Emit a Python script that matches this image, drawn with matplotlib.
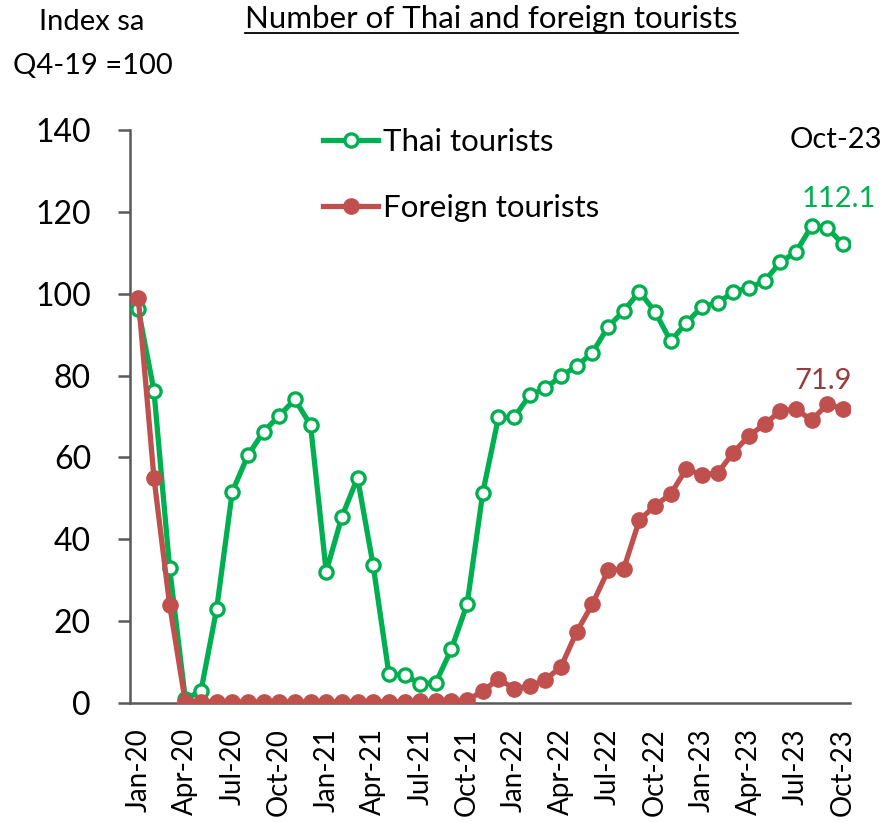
import matplotlib
matplotlib.use('Agg')
import matplotlib.pyplot as plt
import numpy as np

plt.rcParams['font.family'] = ['Lato', 'DejaVu Sans']

months = ['Jan-20', 'Feb-20', 'Mar-20', 'Apr-20', 'May-20', 'Jun-20', 'Jul-20', 'Aug-20', 'Sep-20', 'Oct-20', 'Nov-20', 'Dec-20',
          'Jan-21', 'Feb-21', 'Mar-21', 'Apr-21', 'May-21', 'Jun-21', 'Jul-21', 'Aug-21', 'Sep-21', 'Oct-21', 'Nov-21', 'Dec-21',
          'Jan-22', 'Feb-22', 'Mar-22', 'Apr-22', 'May-22', 'Jun-22', 'Jul-22', 'Aug-22', 'Sep-22', 'Oct-22', 'Nov-22', 'Dec-22',
          'Jan-23', 'Feb-23', 'Mar-23', 'Apr-23', 'May-23', 'Jun-23', 'Jul-23', 'Aug-23', 'Sep-23', 'Oct-23']

thai = [96.2, 76.3, 33.0, 1.0, 2.9, 22.9, 51.6, 60.5, 66.3, 70.2, 74.2, 67.9,
        32.1, 45.5, 55.0, 33.6, 7.2, 6.8, 4.7, 5.0, 13.2, 24.2, 51.4, 69.8,
        69.8, 75.2, 76.9, 79.9, 82.3, 85.6, 91.9, 95.8, 100.5, 95.6, 88.4, 92.9,
        96.8, 97.8, 100.4, 101.5, 103.1, 107.7, 110.2, 116.5, 116.1, 112.1]

foreign = [99.0, 55.0, 24.0, 0.3, 0.3, 0.3, 0.3, 0.3, 0.3, 0.3, 0.3, 0.3,
           0.3, 0.3, 0.3, 0.3, 0.3, 0.3, 0.4, 0.4, 0.5, 0.7, 2.9, 5.9,
           3.5, 4.1, 5.7, 8.9, 17.4, 24.2, 32.4, 32.8, 44.7, 48.2, 51.1, 57.2,
           55.7, 56.2, 61.2, 65.3, 68.1, 71.4, 71.8, 69.1, 73.0, 71.9]

yticks = [0, 20, 40, 60, 80, 100, 120, 140]

GREEN = '#00B050'
RED = '#C0504D'
AXIS = '#595959'

fig = plt.figure(figsize=(8.87, 8.22), dpi=100)
ax = fig.add_axes([130 / 887, 119 / 822, 720 / 887, 573 / 822])

x = np.arange(len(months))
ax.plot(x, thai, color=GREEN, lw=3.8, marker='o', ms=9.5, mfc='white', mec=GREEN, mew=2.4,
        label='Thai tourists', zorder=3)
ax.plot(x, foreign, color=RED, lw=3.8, marker='o', ms=11, mfc=RED, mec=RED,
        label='Foreign tourists', zorder=4)

ax.set_xlim(-0.53, 45.45)
ax.set_ylim(0, 140)
ax.set_yticks(yticks)
ax.tick_params(axis='y', labelsize=23, length=9, width=1.8, color=AXIS, pad=19, direction='out')
ax.set_xticks(x[::3])
ax.set_xticklabels(months[::3], rotation=90, fontsize=20)
ax.tick_params(axis='x', length=0, pad=18)

for side in ['top', 'right']:
    ax.spines[side].set_visible(False)
for side in ['left', 'bottom']:
    ax.spines[side].set_color(AXIS)
    ax.spines[side].set_linewidth(1.8)

leg = ax.legend(loc='upper left', bbox_to_anchor=(0.2507, 1.025), frameon=False, fontsize=22.5,
                handlelength=1.76, handletextpad=0.16, labelspacing=1.22, borderaxespad=0)

ax.text(47.5, 137.6, 'Oct-23', fontsize=21, ha='right', va='center', clip_on=False)
ax.text(47.1, 123.2, f'{thai[-1]:.1f}', fontsize=21, color=GREEN, ha='right', va='center', clip_on=False)
ax.text(45.6, 78.7, f'{foreign[-1]:.1f}', fontsize=21, color='#9B3B3A', ha='right', va='center', clip_on=False)

fig.text(92 / 887, 1 - 22 / 822, 'Index sa', fontsize=21, ha='center', va='center')
fig.text(93 / 887, 1 - 66 / 822, 'Q4-19 =100', fontsize=21, ha='center', va='center')
fig.text(491 / 887, 1 - 28 / 822, 'Number of Thai and foreign tourists', fontsize=22.5,
         ha='center', va='baseline')
# underline the title
fig.add_artist(plt.Line2D([245 / 887, 738 / 887], [1 - 33 / 822, 1 - 33 / 822], color='black', lw=1.3))

fig.savefig('out.png', dpi=100, facecolor='white')
